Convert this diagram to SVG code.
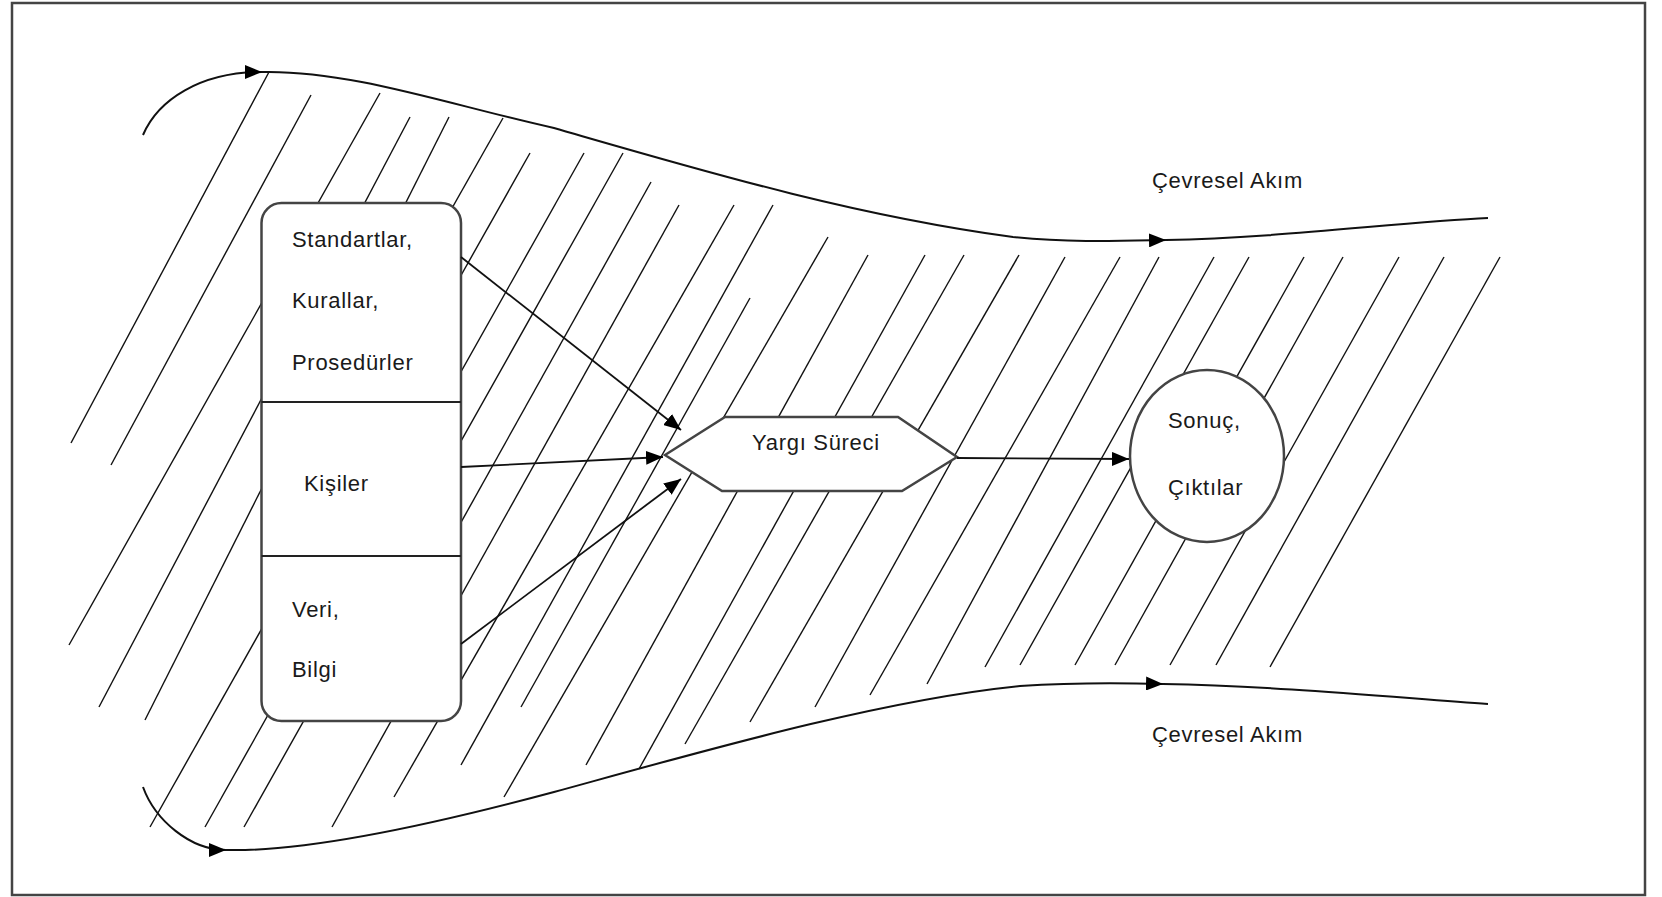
<svg xmlns="http://www.w3.org/2000/svg" width="1662" height="897" viewBox="0 0 1662 897">
<defs>
<marker id="ah" markerUnits="userSpaceOnUse" markerWidth="18" markerHeight="14" refX="17" refY="7" orient="auto">
<path d="M0,0 L17,7 L0,14 z" fill="#000"/>
</marker>
<style>
.hatch line{stroke:#111;stroke-width:1.4;fill:none}
.flow{stroke:#111;stroke-width:2;fill:none}
.conn{stroke:#111;stroke-width:1.8;fill:none}
.node{fill:#fff;stroke:#444;stroke-width:2.5}
.lbl{font-family:"Liberation Sans",Arial,sans-serif;font-size:22px;letter-spacing:0.7px;fill:#1a1a1a}
</style>
</defs>
<rect x="0" y="0" width="1662" height="897" fill="#fff"/>
<rect x="12" y="3" width="1633" height="892" fill="none" stroke="#444" stroke-width="2.5"/>
<g id="hatch" class="hatch">
<line x1="269" y1="72" x2="71" y2="443"/>
<line x1="311" y1="95" x2="111" y2="465"/>
<line x1="380" y1="93" x2="69" y2="645"/>
<line x1="410" y1="117" x2="99" y2="707"/>
<line x1="449" y1="117" x2="145" y2="720"/>
<line x1="503" y1="118" x2="400" y2="300"/>
<line x1="530" y1="153" x2="150" y2="827"/>
<line x1="584" y1="153" x2="205" y2="827"/>
<line x1="623" y1="153" x2="244" y2="827"/>
<line x1="651" y1="182" x2="440" y2="560"/>
<line x1="679" y1="205" x2="332" y2="827"/>
<line x1="734" y1="205" x2="394" y2="797"/>
<line x1="750" y1="298" x2="521" y2="707"/>
<line x1="773" y1="205" x2="461" y2="765"/>
<line x1="828" y1="237" x2="504" y2="797"/>
<line x1="868" y1="255" x2="586" y2="765"/>
<line x1="925" y1="255" x2="639" y2="769"/>
<line x1="964" y1="255" x2="685" y2="744"/>
<line x1="1019" y1="255" x2="750" y2="722"/>
<line x1="1065" y1="257" x2="815" y2="707"/>
<line x1="1120" y1="257" x2="870" y2="695"/>
<line x1="1159" y1="257" x2="927" y2="684"/>
<line x1="1214" y1="257" x2="985" y2="667"/>
<line x1="1249" y1="257" x2="1020" y2="665"/>
<line x1="1304" y1="257" x2="1075" y2="665"/>
<line x1="1343" y1="257" x2="1115" y2="665"/>
<line x1="1399" y1="257" x2="1170" y2="665"/>
<line x1="1444" y1="257" x2="1216" y2="665"/>
<line x1="1500" y1="257" x2="1270" y2="667"/>
</g>
<g id="flows">
<path class="flow" d="M143,135 C158,100 200,72 262,72" marker-end="url(#ah)"/>
<path class="flow" d="M262,72 C350,70 450,105 554,128 C700,170 850,215 1013,237 C1070,243 1120,241 1166,240" marker-end="url(#ah)"/>
<path class="flow" d="M1166,240 C1280,238 1400,222 1488,218"/>
<path class="flow" d="M143,787 C155,820 190,850 226,850" marker-end="url(#ah)"/>
<path class="flow" d="M226,850 C300,852 420,828 554,792 C700,752 880,700 1020,686 C1080,682 1130,683 1163,684" marker-end="url(#ah)"/>
<path class="flow" d="M1163,684 C1280,686 1400,698 1488,704"/>
</g>
<g id="inputs">
<rect class="node" x="261.5" y="203" width="199.5" height="518" rx="20" ry="20"/>
<line x1="261.5" y1="402" x2="461" y2="402" stroke="#222" stroke-width="2"/>
<line x1="261.5" y1="556" x2="461" y2="556" stroke="#222" stroke-width="2"/>
<text class="lbl" x="292" y="247">Standartlar,</text>
<text class="lbl" x="292" y="308">Kurallar,</text>
<text class="lbl" x="292" y="370">Prosedürler</text>
<text class="lbl" x="304" y="491">Kişiler</text>
<text class="lbl" x="292" y="617">Veri,</text>
<text class="lbl" x="292" y="677">Bilgi</text>
</g>
<g id="process">
<polygon class="node" points="665,455 725,417 898,417 957,457 902,491 722,491"/>
<text class="lbl" x="752" y="450">Yargı Süreci</text>
</g>
<g id="outcome">
<ellipse class="node" cx="1207" cy="456" rx="77" ry="86" stroke="#333" stroke-width="1.8"/>
<text class="lbl" x="1168" y="428">Sonuç,</text>
<text class="lbl" x="1168" y="495">Çıktılar</text>
</g>
<g id="flow-labels">
<text class="lbl" x="1152" y="188">Çevresel Akım</text>
<text class="lbl" x="1152" y="742">Çevresel Akım</text>
</g>
<g id="connectors">
<line class="conn" x1="461" y1="257" x2="681" y2="430" marker-end="url(#ah)"/>
<line class="conn" x1="461" y1="467" x2="663" y2="457" marker-end="url(#ah)"/>
<line class="conn" x1="461" y1="644" x2="681" y2="479" marker-end="url(#ah)"/>
<line class="conn" x1="957" y1="458" x2="1129" y2="459" marker-end="url(#ah)"/>
</g>
</svg>
